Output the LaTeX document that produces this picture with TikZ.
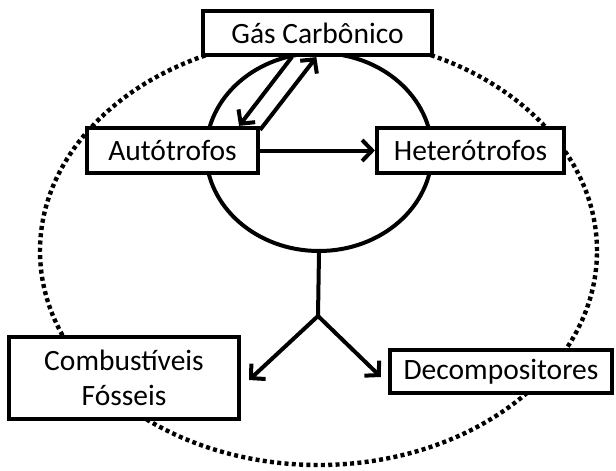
\documentclass[tikz,border=0pt]{standalone}
\usepackage{fontspec}
\setmainfont{Carlito}
\usetikzlibrary{shapes.geometric,arrows.meta,calc}
\begin{document}
\begin{tikzpicture}[x=1pt,y=-1pt,
  box/.style={draw,line width=4.2pt,fill=white,rectangle,inner sep=0pt,font=\fontsize{29.5}{35}\selectfont,align=center},
  conn/.style={line width=4pt},
  arr/.style={line width=4pt,-{Straight Barb[length=10pt,width=21pt,line width=4pt]}}]
\useasboundingbox (0,0) rectangle (616,471);
% outer dotted ellipse
\node[ellipse,draw,line width=4.4pt,dash pattern=on 4pt off 3.3pt,minimum width=557pt,minimum height=428pt,inner sep=0pt] (world) at (318.5,251) {};
% inner ecosystem ellipse
\node[ellipse,draw,line width=4pt,minimum width=226pt,minimum height=198pt,inner sep=0pt] (eco) at (319,152) {};
% boxes
\node[box,minimum width=229pt,minimum height=44pt] (gas) at (317.5,33) {Gás Carbônico};
\node[box,minimum width=171pt,minimum height=45pt] (aut) at (172.5,150.5) {Autótrofos};
\node[box,minimum width=187pt,minimum height=45pt] (het) at (470.5,150.5) {Heterótrofos};
\node[box,minimum width=230pt,minimum height=82pt] (comb) at (124,378) {Combustíveis\\Fósseis};
\node[box,minimum width=222pt,minimum height=43pt] (dec) at (501,371.5) {Decompositores};
% connectors
\draw[arr] ($(gas.south west)!0.39!(gas.south east)$) -- ($(aut.north west)!0.88!(aut.north east)$);
\draw[arr] ($(aut.north east)+(0,4)$) -- ($(gas.south west)!0.495!(gas.south east)$);
\draw[arr] (aut.east) -- (het.west);
\coordinate (j) at (318,316);
\draw[conn] (eco.south) -- (j);
\coordinate (ct) at ($(comb.east)+(8,2)$);
\coordinate (dt) at ($(dec.west)+(-7,5.5)$);
\draw[arr] (j) -- (ct);
\draw[arr] (j) -- (dt);
\end{tikzpicture}
\end{document}
